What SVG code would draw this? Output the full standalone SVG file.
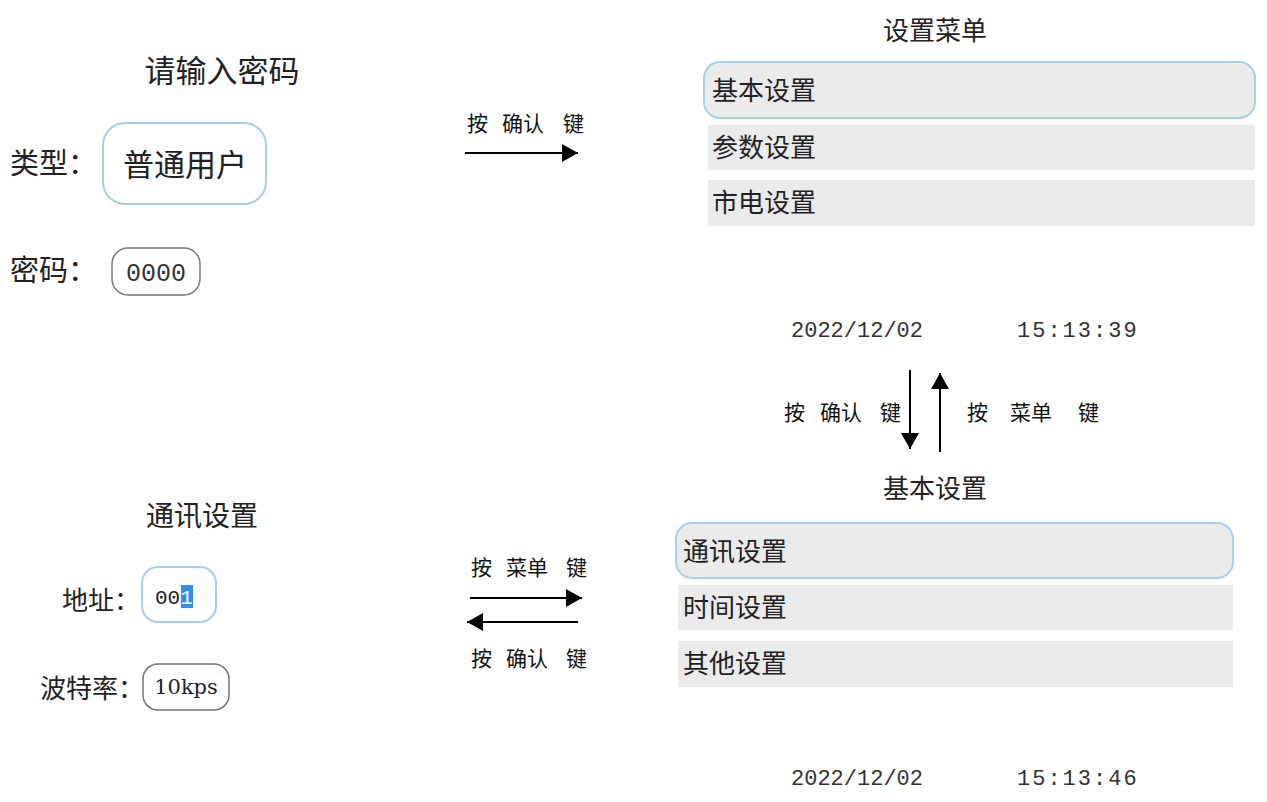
<svg xmlns="http://www.w3.org/2000/svg" width="1267" height="802" viewBox="0 0 1267 802">
<defs>
<style>
.cjk{font-family:"Noto Sans CJK SC","Noto Sans",sans-serif;fill:#222;}
.t31{font-size:31px;}
.t29{font-size:29px;}
.t26{font-size:26px;}
.lbl{font-family:"Noto Sans CJK SC",sans-serif;font-size:21px;fill:#111;}
.mono{font-family:"Liberation Mono",monospace;font-size:22px;fill:#333;}
.row{fill:#ebebeb;}
.sel{fill:#ebebeb;stroke:#a9cfe8;stroke-width:2;}
.fbox{fill:#fff;stroke:#a9cfe8;stroke-width:2;}
.gbox{fill:#fff;stroke:#777;stroke-width:1.5;}
.conn line{stroke:#000;stroke-width:2;}
</style>
<marker id="ah2" viewBox="0 0 16 18" refX="16" refY="9" markerWidth="16" markerHeight="18" markerUnits="userSpaceOnUse" orient="auto">
<path d="M0,0 L16,9 L0,18 z" fill="#000"/>
</marker>
</defs>
<rect width="1267" height="802" fill="#fff"/>

<g id="login">
<text class="cjk t31" x="222" y="82" text-anchor="middle">请输入密码</text>
<text class="cjk t29" x="10" y="174">类型：</text>
<rect class="fbox" x="103" y="123" width="163" height="81" rx="22"/>
<text class="cjk t31" x="185" y="176" text-anchor="middle">普通用户</text>
<text class="cjk t29" x="10" y="281">密码：</text>
<rect class="gbox" x="112" y="248" width="88" height="47" rx="16"/>
<text x="156" y="281" font-size="25" text-anchor="middle" font-family="Liberation Mono" fill="#333">0000</text>
</g>

<g id="settings-menu">
<text class="cjk t26" x="935" y="40" text-anchor="middle">设置菜单</text>
<rect class="sel" x="704" y="62" width="551" height="56" rx="16"/>
<text class="cjk t26" x="712" y="100">基本设置</text>
<rect class="row" x="708" y="125" width="547" height="45"/>
<text class="cjk t26" x="712" y="157">参数设置</text>
<rect class="row" x="708" y="180" width="547" height="46"/>
<text class="cjk t26" x="712" y="212">市电设置</text>
<text class="mono" x="791" y="337">2022/12/02</text>
<text class="mono" x="1017" y="337" letter-spacing="2">15:13:39</text>
</g>

<g id="basic-settings">
<text class="cjk t26" x="935" y="498" text-anchor="middle">基本设置</text>
<rect class="sel" x="676" y="523" width="557" height="55" rx="16"/>
<text class="cjk t26" x="683" y="561">通讯设置</text>
<rect class="row" x="678" y="585" width="555" height="45"/>
<text class="cjk t26" x="683" y="617">时间设置</text>
<rect class="row" x="678" y="641" width="555" height="46"/>
<text class="cjk t26" x="683" y="673">其他设置</text>
<text class="mono" x="791" y="785">2022/12/02</text>
<text class="mono" x="1017" y="785" letter-spacing="2">15:13:46</text>
</g>

<g id="comm-settings">
<text class="cjk" x="202" y="526" font-size="28" text-anchor="middle">通讯设置</text>
<text class="cjk t26" x="62" y="610">地址：</text>
<rect class="fbox" x="142" y="567" width="74" height="55" rx="16"/>
<rect x="181" y="585" width="12" height="23" fill="#2f8fe8"/>
<text x="155" y="604" font-size="21" font-family="Liberation Mono" fill="#222">00<tspan fill="#fff">1</tspan></text>
<text class="cjk t26" x="40" y="698">波特率：</text>
<rect class="gbox" x="143" y="664" width="86" height="46" rx="15"/>
<text x="186" y="694" font-size="21" text-anchor="middle" font-family="DejaVu Serif" fill="#222">10kps</text>
</g>

<g id="connectors" class="conn">
<line x1="465" y1="153" x2="578" y2="153" marker-end="url(#ah2)"/>
<line x1="910" y1="370" x2="910" y2="449" marker-end="url(#ah2)"/>
<line x1="940" y1="452" x2="940" y2="373" marker-end="url(#ah2)"/>
<line x1="470" y1="598" x2="582" y2="598" marker-end="url(#ah2)"/>
<line x1="578" y1="622" x2="467" y2="622" marker-end="url(#ah2)"/>
<text class="lbl" y="131"><tspan x="467">按</tspan><tspan x="502">确认</tspan><tspan x="563">键</tspan></text>
<text class="lbl" y="420"><tspan x="784">按</tspan><tspan x="820">确认</tspan><tspan x="880">键</tspan></text>
<text class="lbl" y="420"><tspan x="967">按</tspan><tspan x="1010">菜单</tspan><tspan x="1078">键</tspan></text>
<text class="lbl" y="575"><tspan x="471">按</tspan><tspan x="506">菜单</tspan><tspan x="566">键</tspan></text>
<text class="lbl" y="666"><tspan x="471">按</tspan><tspan x="506">确认</tspan><tspan x="566">键</tspan></text>
</g>
</svg>
